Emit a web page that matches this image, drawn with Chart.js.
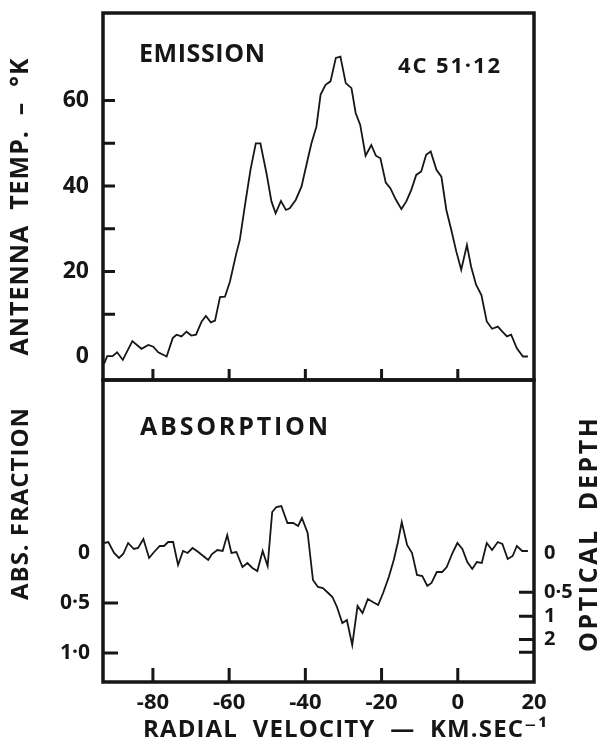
<!DOCTYPE html>
<html>
<head>
<meta charset="utf-8">
<script src="https://cdn.jsdelivr.net/npm/chart.js@4.4.1/dist/chart.umd.min.js"></script>
<style>
  html, body { margin: 0; padding: 0; background: #fff; }
  #wrap { position: relative; width: 608px; height: 756px; }
  #emission { position: absolute; left: 0; top: 0; }
  #absorption { position: absolute; left: 0; top: 376px; }
</style>
</head>
<body>
<div id="wrap">
  <canvas id="emission" width="608" height="384"></canvas>
  <canvas id="absorption" width="608" height="380"></canvas>
</div>
<script>
const ink = '#161616';
const family = "'Open Sans', 'DejaVu Sans', sans-serif";

// emission profile: antenna temperature (K) against radial velocity (km/s)
const emVelocity = [
  -92.8, -92.0, -90.6, -89.4, -87.9, -85.4, -83.0, -81.2, -79.9, -78.6,
  -76.4, -74.8, -73.8, -72.5, -71.2, -69.9, -68.7, -67.2, -66.1, -64.8,
  -63.7, -62.4, -61.1, -59.8, -58.1, -57.2, -55.9, -54.4, -53.0, -51.8,
  -50.2, -48.9, -47.8, -46.4, -45.1, -44.1, -42.5, -41.0, -39.6, -38.4,
  -37.1, -36.0, -34.7, -33.4, -32.0, -30.8, -29.4, -27.9, -26.8, -25.6,
  -24.2, -22.7, -21.5, -20.3, -18.9, -17.7, -16.3, -14.8, -13.5, -12.2,
  -10.9, -9.6, -8.3, -7.1, -5.6, -4.3, -3.0, -1.7, -0.4, 0.9,
  2.4, 3.5, 4.8, 6.2, 7.6, 9.0, 10.5, 11.7, 12.9, 14.0,
  15.5, 17.1, 18.4
];
const emTemp = [
  -1.6, 0.2, 0.2, 1.1, -0.7, 3.7, 1.9, 2.8, 2.4, 1.1,
  0.1, 4.4, 5.2, 4.8, 5.9, 5.0, 5.2, 8.3, 9.6, 8.1,
  8.5, 14.0, 14.1, 17.6, 24.3, 27.4, 35.2, 43.8, 50.0, 50.0,
  43.0, 36.4, 33.6, 36.5, 34.4, 34.8, 36.8, 39.9, 45.4, 50.0,
  53.9, 61.4, 63.7, 64.5, 70.0, 70.3, 64.1, 62.9, 57.1, 54.3,
  47.1, 49.6, 47.1, 46.5, 40.8, 39.5, 36.9, 34.6, 36.4, 39.1,
  42.6, 43.4, 47.3, 48.1, 43.8, 42.2, 34.4, 29.7, 24.7, 20.4,
  26.2, 21.1, 16.9, 14.5, 8.3, 6.6, 7.1, 5.9, 4.8, 5.2,
  2.0, 0.1, 0.1
];

// absorption profile: absorbed fraction against radial velocity (km/s)
const absVelocity = [
  -92.8, -91.7, -90.2, -88.9, -87.8, -86.5, -85.0, -83.9, -82.5, -81.0,
  -79.7, -78.2, -77.1, -76.0, -74.7, -73.4, -72.1, -70.9, -69.6, -68.1,
  -66.8, -65.5, -64.5, -63.1, -61.7, -60.5, -59.4, -58.1, -56.5, -55.2,
  -53.9, -52.6, -51.2, -49.9, -48.7, -47.6, -46.3, -44.7, -43.2, -41.9,
  -40.9, -39.4, -38.0, -36.7, -35.4, -34.0, -32.9, -31.7, -30.3, -29.1,
  -27.7, -26.3, -25.0, -23.6, -22.3, -20.9, -19.6, -18.1, -16.8, -15.7,
  -14.7, -13.3, -12.0, -10.7, -9.3, -8.0, -6.9, -5.5, -4.1, -2.9,
  -1.4, -0.1, 1.2, 2.5, 3.8, 5.0, 6.3, 7.6, 9.0, 10.5,
  11.7, 13.1, 14.4, 15.5, 16.9, 18.4
];
const absFraction = [
  -0.10, -0.11, 0.00, 0.05, 0.01, -0.10, -0.04, -0.05, -0.14, 0.05,
  -0.01, -0.07, -0.07, -0.11, -0.11, 0.12, -0.02, 0.00, -0.05, -0.01,
  0.03, 0.07, 0.01, -0.03, -0.02, -0.18, 0.00, -0.01, 0.14, 0.10,
  0.15, 0.18, -0.02, 0.13, -0.41, -0.46, -0.47, -0.30, -0.30, -0.27,
  -0.35, -0.20, 0.27, 0.34, 0.35, 0.40, 0.44, 0.54, 0.70, 0.67,
  0.92, 0.53, 0.60, 0.46, 0.49, 0.52, 0.40, 0.24, 0.07, -0.11,
  -0.31, -0.08, 0.00, 0.22, 0.23, 0.33, 0.30, 0.19, 0.19, 0.14,
  0.00, -0.10, -0.04, 0.09, 0.16, 0.09, 0.10, -0.10, -0.03, -0.11,
  -0.09, 0.06, 0.03, -0.07, -0.02, -0.02
];

const velocityTicks = [-80, -60, -40, -20, 0, 20];
const velocityMarks = [-80, -60, -40, -20, 0];
const tempTicks = [0, 20, 40, 60];
const tempMarks = [10, 20, 30, 40, 50, 60];
const fractionTicks = [0, 0.5, 1.0];
const fractionLabels = ['0', '0·5', '1·0'];
const depthTicks = [0, 0.5, 1, 2];
const depthLabels = ['0', '0·5', '1', '2'];
const depthMarks = [0.5, 1, 2, 5];

// optical depth tau sits at absorbed fraction 1 - e^-tau
const tauToFraction = t => 1 - Math.exp(-t);

function bold(size) {
  return { family: family, size: size, weight: 'bold' };
}

// fixed axis boxes, no extra padding for the end labels
function fixWidth(w) {
  return s => { s.width = w; s.paddingTop = 0; s.paddingBottom = 0; };
}
function fixHeight(h) {
  return s => { s.height = h; s.paddingLeft = 0; s.paddingRight = 0; };
}

// thick frame, inward tick marks and free text
const framePlugin = {
  id: 'frame',
  afterDraw(chart, args, opts) {
    const { ctx, chartArea: a, scales } = chart;
    ctx.save();
    ctx.strokeStyle = ink;
    ctx.fillStyle = ink;
    ctx.lineWidth = 3.5;
    ctx.strokeRect(a.left, a.top, a.right - a.left, a.bottom - a.top);
    ctx.lineWidth = 3;
    ctx.beginPath();
    opts.marks.forEach(m => {
      const s = scales[m.axis];
      m.values.forEach(v => {
        const p = s.getPixelForValue(v);
        if (m.side === 'left') { ctx.moveTo(a.left, p); ctx.lineTo(a.left + m.len, p); }
        if (m.side === 'right') { ctx.moveTo(a.right, p); ctx.lineTo(a.right - m.len, p); }
        if (m.side === 'bottom') { ctx.moveTo(p, a.bottom); ctx.lineTo(p, a.bottom - m.len); }
      });
    });
    ctx.stroke();
    opts.texts.forEach(t => {
      ctx.save();
      ctx.font = 'bold ' + t.size + 'px ' + family;
      ctx.letterSpacing = '0px';
      let spacing = 0;
      if (t.width) {
        const w = ctx.measureText(t.text).width;
        spacing = (t.width - w) / Math.max(t.text.length - 1, 1);
      }
      ctx.letterSpacing = spacing + 'px';
      ctx.textBaseline = t.baseline || 'alphabetic';
      ctx.textAlign = 'left';
      ctx.translate(t.x, t.y);
      if (t.rotate) ctx.rotate(t.rotate);
      const shift = t.center ? -(t.width || ctx.measureText(t.text).width) / 2 : 0;
      ctx.fillText(t.text, shift, 0);
      ctx.restore();
    });
    ctx.restore();
  }
};

const common = {
  responsive: false,
  animation: false,
  events: [],
  plugins: { legend: { display: false }, tooltip: { enabled: false } }
};

new Chart(document.getElementById('emission'), {
  type: 'line',
  data: {
    datasets: [{
      data: emVelocity.map((v, i) => ({ x: v, y: emTemp[i] })),
      borderColor: ink,
      borderWidth: 1.8,
      pointRadius: 0,
      tension: 0
    }]
  },
  options: {
    ...common,
    layout: { padding: { top: 13, right: 74, bottom: 4, left: 0 } },
    scales: {
      x: { type: 'linear', min: -93.1, max: 20, display: false },
      y: {
        type: 'linear', min: -5.4, max: 80.5,
        afterFit: fixWidth(103),
        afterBuildTicks: s => { s.ticks = tempTicks.map(v => ({ value: v })); },
        grid: { display: false, drawTicks: false },
        border: { display: false },
        ticks: { color: ink, font: bold(23), padding: 14 }
      }
    },
    plugins: {
      ...common.plugins,
      frame: {
        marks: [
          { axis: 'y', side: 'left', len: 12, values: tempMarks },
          { axis: 'x', side: 'bottom', len: 11, values: velocityMarks }
        ],
        texts: [
          { text: 'EMISSION', x: 139, y: 62, size: 25, width: 126 },
          { text: '4C 51·12', x: 398, y: 73, size: 22, width: 102 },
          { text: 'ANTENNA  TEMP.  –  °K', x: 21, y: 207, size: 25, width: 297,
            rotate: -Math.PI / 2, center: true, baseline: 'middle' }
        ]
      }
    }
  },
  plugins: [framePlugin]
});

new Chart(document.getElementById('absorption'), {
  type: 'line',
  data: {
    datasets: [{
      data: absVelocity.map((v, i) => ({ x: v, y: absFraction[i] })),
      borderColor: ink,
      borderWidth: 1.8,
      pointRadius: 0,
      tension: 0
    }]
  },
  options: {
    ...common,
    layout: { padding: { top: 4, right: 0, bottom: 0, left: 0 } },
    scales: {
      x: {
        type: 'linear', min: -93.1, max: 20,
        afterFit: fixHeight(74),
        afterBuildTicks: s => { s.ticks = velocityTicks.map(v => ({ value: v })); },
        grid: { display: false, drawTicks: false },
        border: { display: false },
        ticks: { color: ink, font: bold(22), padding: 8, maxRotation: 0, autoSkip: false }
      },
      y: {
        type: 'linear', min: -1.73, max: 1.29, reverse: true,
        afterFit: fixWidth(103),
        afterBuildTicks: s => { s.ticks = fractionTicks.map(v => ({ value: v })); },
        grid: { display: false, drawTicks: false },
        border: { display: false },
        ticks: { color: ink, font: bold(21), padding: 13, callback: (v, i) => fractionLabels[i] }
      },
      tau: {
        type: 'linear', position: 'right', min: -1.73, max: 1.29, reverse: true,
        afterFit: fixWidth(74),
        afterBuildTicks: s => { s.ticks = depthTicks.map(t => ({ value: tauToFraction(t) })); },
        grid: { display: false, drawTicks: false },
        border: { display: false },
        ticks: { color: ink, font: bold(20), padding: 10, autoSkip: false, callback: (v, i) => depthLabels[i] }
      }
    },
    plugins: {
      ...common.plugins,
      frame: {
        marks: [
          { axis: 'y', side: 'left', len: 15, values: [0.5, 1.0] },
          { axis: 'tau', side: 'right', len: 15, values: depthMarks.map(tauToFraction) },
          { axis: 'x', side: 'bottom', len: 14, values: velocityMarks }
        ],
        texts: [
          { text: 'ABSORPTION', x: 140, y: 59, size: 25, width: 188 },
          { text: 'ABS. FRACTION', x: 21, y: 128, size: 24, width: 192,
            rotate: -Math.PI / 2, center: true, baseline: 'middle' },
          { text: 'OPTICAL  DEPTH', x: 590, y: 159, size: 25, width: 234,
            rotate: -Math.PI / 2, center: true, baseline: 'middle' },
          { text: 'RADIAL  VELOCITY  —  KM.SEC⁻¹', x: 345, y: 354, size: 24, width: 404,
            center: true, baseline: 'middle' }
        ]
      }
    }
  },
  plugins: [framePlugin]
});
</script>
</body>
</html>
